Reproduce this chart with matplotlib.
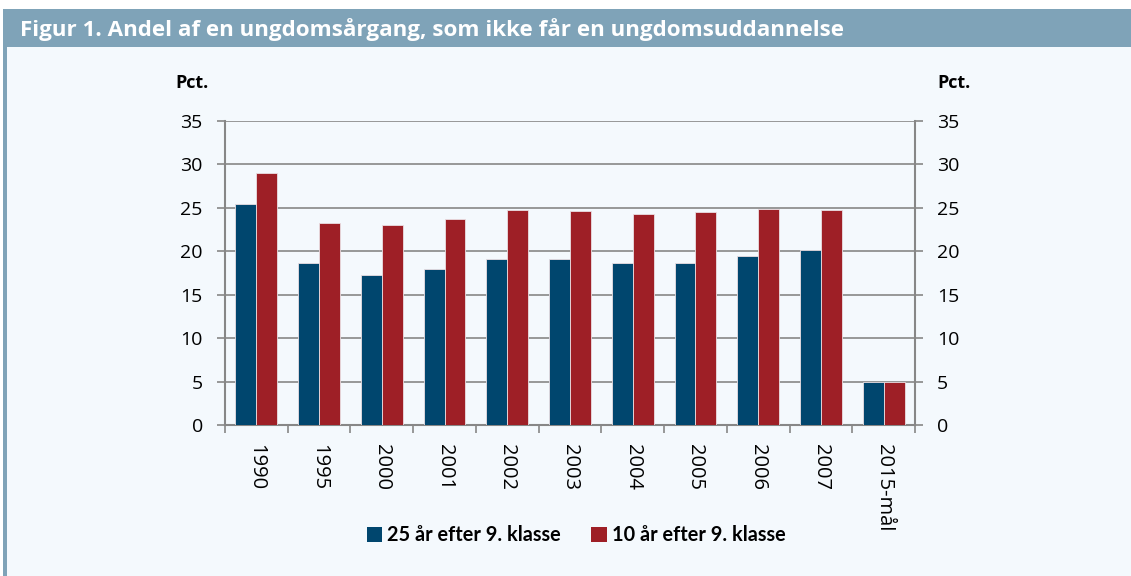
import numpy as np
import matplotlib.pyplot as plt
from matplotlib.patches import Rectangle, Patch

DPI = 100
plt.rcParams['font.family'] = ['Open Sans', 'DejaVu Sans']

categories = ['1990', '1995', '2000', '2001', '2002', '2003', '2004', '2005',
              '2006', '2007', '2015-mål']
efter_25 = [25.4, 18.6, 17.3, 18.0, 19.1, 19.1, 18.6, 18.6, 19.4, 20.2, 5.0]
efter_10 = [29.0, 23.3, 23.0, 23.7, 24.7, 24.6, 24.3, 24.5, 24.9, 24.8, 5.0]
labels = ['25 år efter 9. klasse', '10 år efter 9. klasse']
title = 'Figur 1. Andel af en ungdomsårgang, som ikke får en ungdomsuddannelse'

blue = '#00466e'
red = '#9e1f26'
bg = '#f4f9fd'
band = '#7fa3b8'
grid = '#878787'

fig = plt.figure(figsize=(1131/DPI, 576/DPI), dpi=DPI)
fig.patch.set_facecolor('white')

# panel background, header band and left border
fig.add_artist(Rectangle((3/1131, 0), 1 - 3/1131, 1 - 9/576, transform=fig.transFigure,
                         facecolor=bg, edgecolor='none', zorder=0))
fig.add_artist(Rectangle((3/1131, 1 - 47/576), 1 - 3/1131, 38/576, transform=fig.transFigure,
                         facecolor=band, edgecolor='none', zorder=1))
fig.add_artist(Rectangle((3/1131, 0), 4/1131, 1 - 9/576, transform=fig.transFigure,
                         facecolor=band, edgecolor='none', zorder=1))
fig.text(20/1131, 1 - 30/576, title, color='white', fontsize=16.1, fontweight='bold',
         va='center', ha='left')

ax = fig.add_axes([225/1131, 1 - 425/576, 690/1131, 304/576])
ax.set_facecolor(bg)
x = np.arange(len(categories))
w = 1/3
ax.bar(x - w/2, efter_25, w, color=blue, edgecolor='#eadfe3', linewidth=0.6, zorder=3)
ax.bar(x + w/2, efter_10, w, color=red, edgecolor='#eadfe3', linewidth=0.6, zorder=3)

ax.set_xlim(-0.5, len(categories) - 0.5)
ax.set_ylim(0, 35)
ax.set_yticks(np.arange(0, 36, 5))
ax.yaxis.grid(True, color=grid, linewidth=1.2, zorder=1)
ax.set_axisbelow(True)
ax.tick_params(axis='y', which='both', left=True, right=True, labelleft=True, labelright=True,
               length=6, width=1.2, color=grid, labelsize=14, pad=10)
ax.set_xticks(x)
ax.set_xticklabels(categories, rotation=-90, fontsize=14.5)
ax.tick_params(axis='x', length=0, pad=14)
ax.set_xticks(np.arange(-0.5, len(categories), 1), minor=True)
ax.tick_params(axis='x', which='minor', length=6, width=1.2, color=grid)
for side in ['left', 'right', 'bottom']:
    ax.spines[side].set_color(grid)
    ax.spines[side].set_linewidth(1.5)
ax.spines['top'].set_visible(False)

fig.text(192/1131, 1 - 83/576, 'Pct.', fontsize=13, fontweight='bold', ha='center', va='center')
fig.text(954/1131, 1 - 83/576, 'Pct.', fontsize=13, fontweight='bold', ha='center', va='center')

handles = [Patch(facecolor=blue), Patch(facecolor=red)]
fig.legend(handles, labels, loc='center', bbox_to_anchor=(576/1131, 1 - 535/576), ncol=2,
           frameon=False, handlelength=0.8, handleheight=0.8, handletextpad=0.25,
           columnspacing=1.5, prop={'weight': 'bold', 'size': 14.3, 'family': ['Lato', 'DejaVu Sans']})

plt.savefig('out.png', dpi=DPI, facecolor=fig.get_facecolor())
